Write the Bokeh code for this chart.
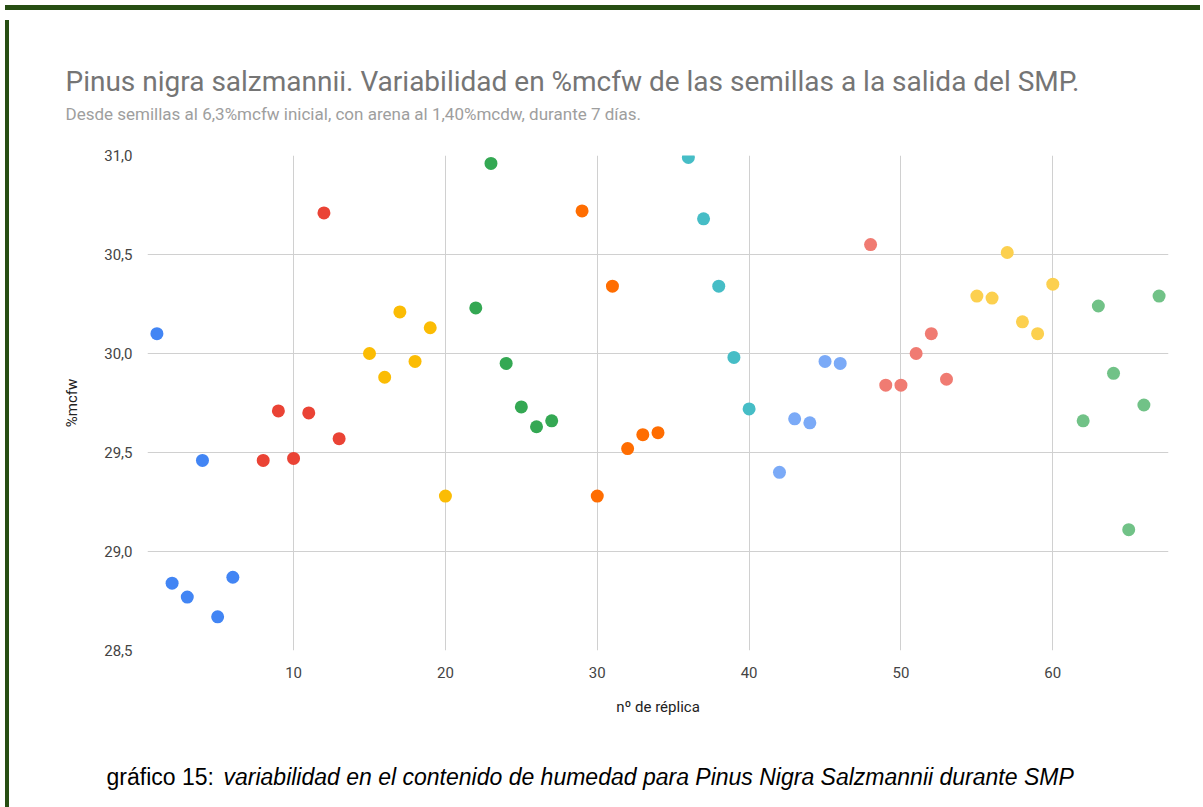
from bokeh.plotting import figure
from bokeh.models import Label, CustomJSTickFormatter, FixedTicker, Range1d, Div
from bokeh.layouts import column, row
from bokeh.embed import file_html
from bokeh.resources import INLINE

# ---- data ----
replica_1 = [1, 2, 3, 4, 5, 6]
mcfw_1 = [30.10, 28.84, 28.77, 29.46, 28.67, 28.87]
replica_2 = [8, 9, 10, 11, 12, 13]
mcfw_2 = [29.46, 29.71, 29.47, 29.70, 30.71, 29.57]
replica_3 = [15, 16, 17, 18, 19, 20]
mcfw_3 = [30.00, 29.88, 30.21, 29.96, 30.13, 29.28]
replica_4 = [22, 23, 24, 25, 26, 27]
mcfw_4 = [30.23, 30.96, 29.95, 29.73, 29.63, 29.66]
replica_5 = [29, 30, 31, 32, 33, 34]
mcfw_5 = [30.72, 29.28, 30.34, 29.52, 29.59, 29.60]
replica_6 = [36, 37, 38, 39, 40]
mcfw_6 = [30.99, 30.68, 30.34, 29.98, 29.72]
replica_7 = [42, 43, 44, 45, 46]
mcfw_7 = [29.40, 29.67, 29.65, 29.96, 29.95]
replica_8 = [48, 49, 50, 51, 52, 53]
mcfw_8 = [30.55, 29.84, 29.84, 30.00, 30.10, 29.87]
replica_9 = [55, 56, 57, 58, 59, 60]
mcfw_9 = [30.29, 30.28, 30.51, 30.16, 30.10, 30.35]
replica_10 = [62, 63, 64, 65, 66, 67]
mcfw_10 = [29.66, 30.24, 29.90, 29.11, 29.74, 30.29]

series_colors = ["#4285F4", "#EA4335", "#FBBC04", "#34A853", "#FF6D01",
                 "#46BDC6", "#7BAAF7", "#F07B72", "#FCD04F", "#71C287"]

x_ticks = [10, 20, 30, 40, 50, 60]
y_ticks = [28.5, 29.0, 29.5, 30.0, 30.5, 31.0]

title_text = "Pinus nigra salzmannii. Variabilidad en %mcfw de las semillas a la salida del SMP."
subtitle_text = "Desde semillas al 6,3%mcfw inicial, con arena al 1,40%mcdw, durante 7 días."
caption_plain = "gráfico 15:"
caption_italic = "variabilidad en el contenido de humedad para Pinus Nigra Salzmannii  durante SMP"
x_label = "nº de réplica"
y_label = "%mcfw"

W = 1191
H_TOP, H_MAIN, H_CAP = 120, 595, 79


def text_panel(height):
    f = figure(width=W, height=height, output_backend="svg", toolbar_location=None,
               title=None, x_range=Range1d(0, 1), y_range=Range1d(0, 1),
               x_axis_location=None, y_axis_location=None,
               min_border_left=0, min_border_right=0, min_border_top=0, min_border_bottom=0)
    f.frame_align = False
    f.outline_line_color = None
    f.xgrid.visible = False
    f.ygrid.visible = False
    f.background_fill_color = "white"
    f.border_fill_color = "white"
    return f


# ---- title panel ----
top = text_panel(H_TOP)
top.add_layout(Label(x=51, y=54, x_units="screen", y_units="screen", text=title_text,
                     text_font="Roboto", text_font_size="28px", text_color="#757575",
                     text_baseline="alphabetic"))
top.add_layout(Label(x=51, y=22, x_units="screen", y_units="screen", text=subtitle_text,
                     text_font="Roboto", text_font_size="17px", text_color="#9e9e9e",
                     text_baseline="alphabetic"))

# ---- main chart ----
p = figure(width=W, height=H_MAIN, output_backend="svg", toolbar_location=None, title=None,
           x_range=Range1d(0.38, 67.62), y_range=Range1d(28.5, 31.0),
           min_border_left=133, min_border_right=37, min_border_top=20,
           min_border_bottom=80)
p.frame_align = False
p.outline_line_color = None
p.background_fill_color = "white"
p.border_fill_color = "white"

series = [(replica_1, mcfw_1), (replica_2, mcfw_2), (replica_3, mcfw_3),
          (replica_4, mcfw_4), (replica_5, mcfw_5), (replica_6, mcfw_6),
          (replica_7, mcfw_7), (replica_8, mcfw_8), (replica_9, mcfw_9),
          (replica_10, mcfw_10)]
for (xs, ys), c in zip(series, series_colors):
    p.scatter(xs, ys, size=13, fill_color=c, line_color=None)

for ax in (p.xaxis, p.yaxis):
    ax.axis_line_color = None
    ax.major_tick_line_color = None
    ax.minor_tick_line_color = None
    ax.major_label_text_font = "Roboto"
    ax.major_label_text_font_size = "15px"
    ax.major_label_text_color = "#444444"
    ax.axis_label_text_font = "Roboto"
    ax.axis_label_text_font_size = "15px"
    ax.axis_label_text_font_style = "normal"
    ax.axis_label_text_color = "#222222"

p.xaxis.ticker = FixedTicker(ticks=x_ticks)
p.yaxis.ticker = FixedTicker(ticks=y_ticks)
p.yaxis.formatter = CustomJSTickFormatter(code="return tick.toFixed(1).replace('.', ',');")
p.xaxis.major_label_standoff = 10
p.yaxis.major_label_standoff = 9
p.xaxis.axis_label = x_label
p.yaxis.axis_label = y_label
p.xaxis.axis_label_standoff = 17
p.yaxis.axis_label_standoff = 20

p.xgrid.grid_line_color = "#d0d0d0"
p.ygrid.grid_line_color = "#d0d0d0"

# ---- caption panel ----
cap = text_panel(H_CAP)
cap.add_layout(Label(x=92, y=33, x_units="screen", y_units="screen", text=caption_plain,
                     text_font="Liberation Sans", text_font_size="23px", text_color="#000000",
                     text_baseline="alphabetic"))
cap.add_layout(Label(x=209, y=33, x_units="screen", y_units="screen", text=caption_italic,
                     text_font="Liberation Sans", text_font_size="23px", text_color="#000000",
                     text_font_style="italic", text_baseline="alphabetic"))

border_c = "#274e13"
top_bar = Div(width=1195, height=5, styles={"background-color": border_c})
left_bar = Div(width=4, height=H_TOP + H_MAIN + H_CAP, styles={"background-color": border_c})
layout = column(top_bar, row(left_bar, column(top, p, cap, spacing=0), spacing=0), spacing=0)

open("out.html", "w").write(file_html(layout, INLINE))
